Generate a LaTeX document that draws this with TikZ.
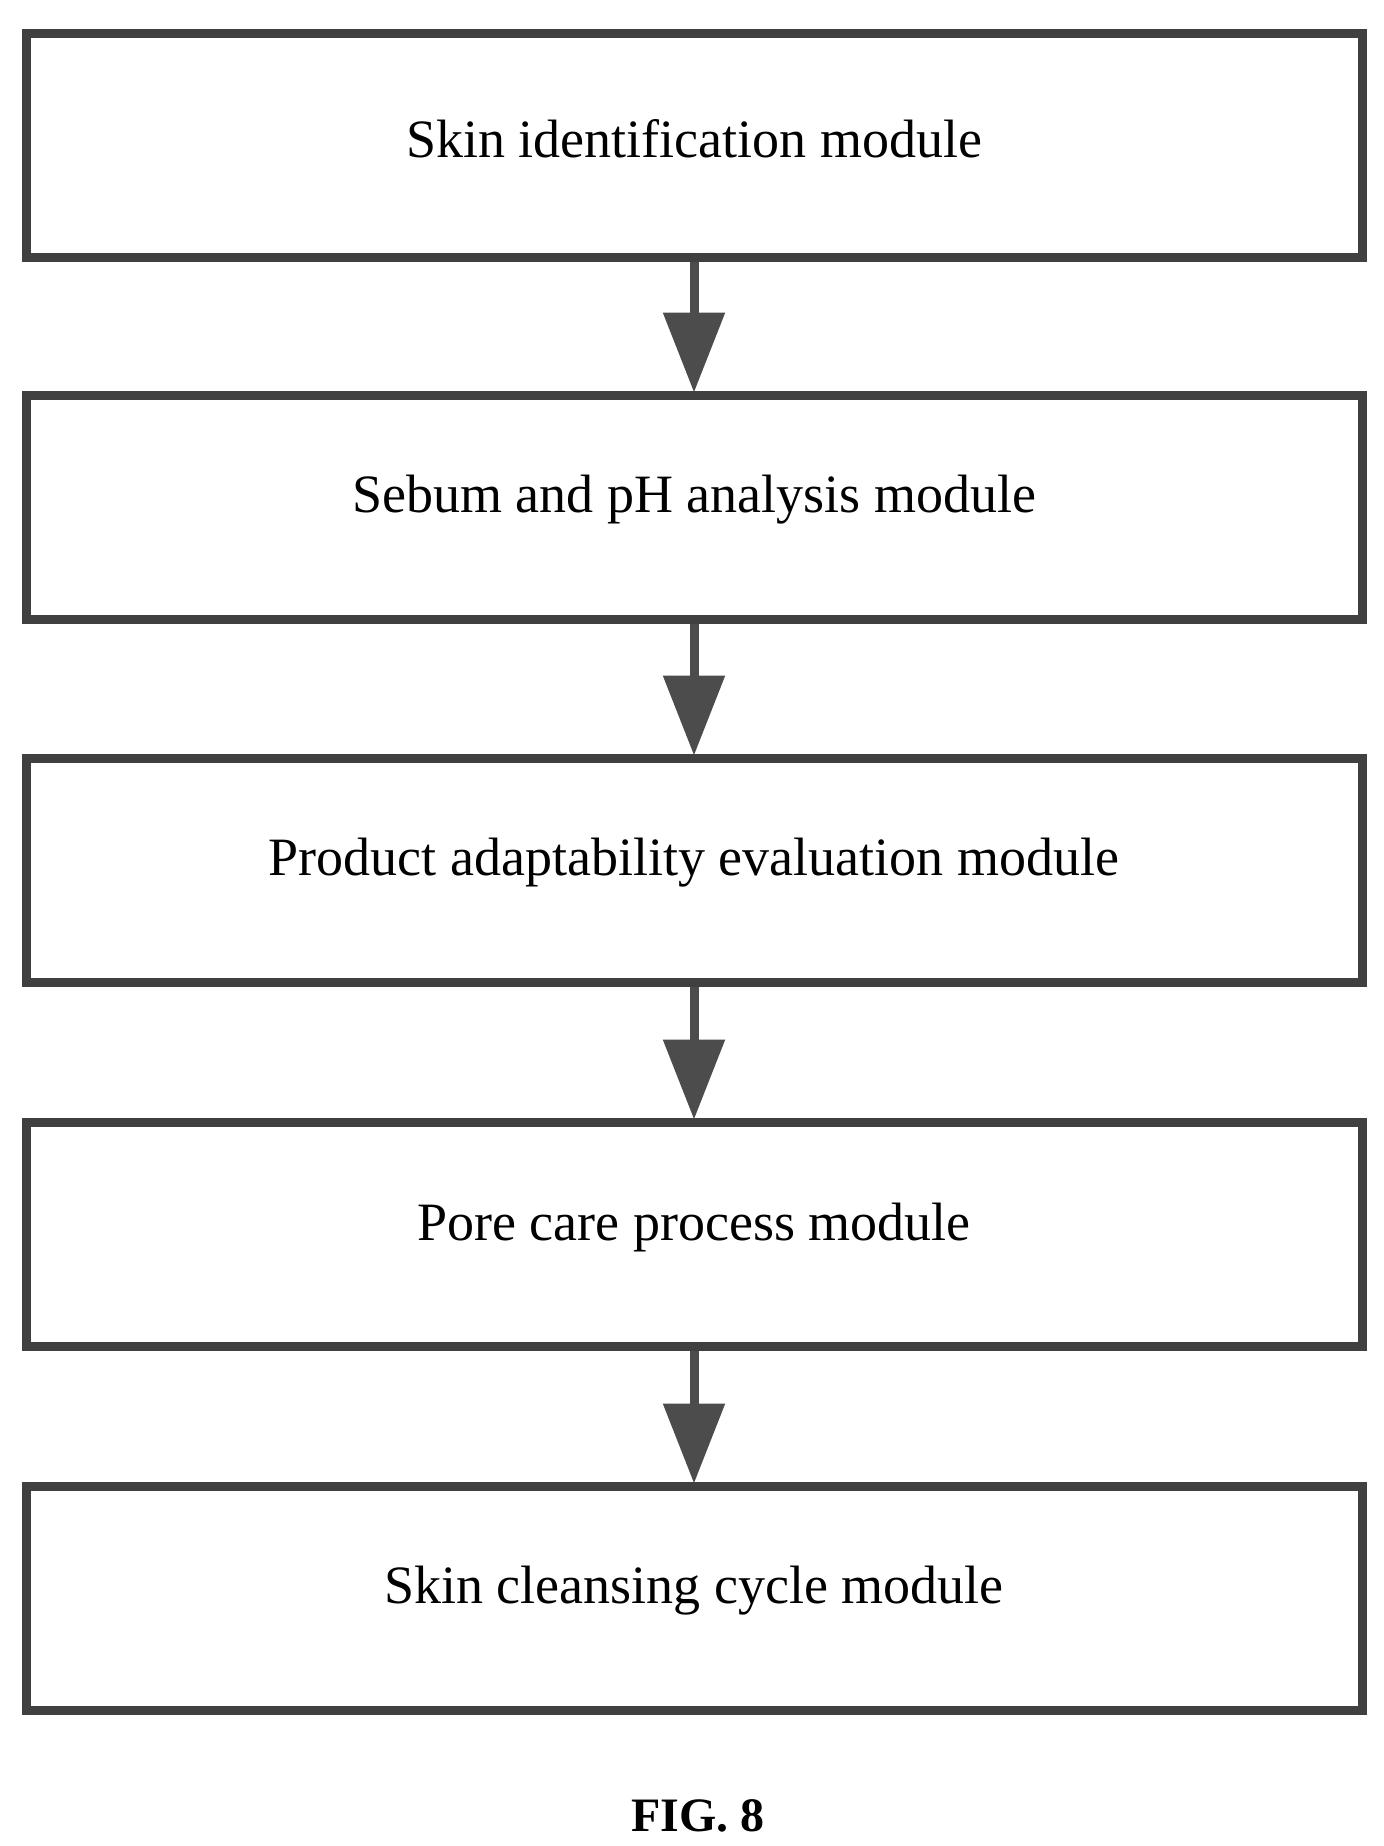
\documentclass[tikz,border=0pt]{standalone}
\usepackage{fontspec}
\setmainfont{Liberation Serif}
\usetikzlibrary{arrows.meta}
\begin{document}
\begin{tikzpicture}[x=0.5pt,y=-0.5pt,
 box/.style={draw=black!75,line width=4.5pt,minimum width=668pt,minimum height=112pt,font=\fontsize{27}{32}\selectfont,inner sep=0pt},
 lbl/.style={font=\fontsize{27}{32}\selectfont,inner sep=0pt},
 arr/.style={draw=black!70,line width=4.5pt,-{Triangle[length=40pt,width=30pt]},shorten >=-1pt}]
\useasboundingbox (0,0) rectangle (1384,1846);
\node[box] (a) at (694,146) {};
\node[box] (b) at (694,507) {};
\node[box] (c) at (694,870) {};
\node[box] (d) at (694,1234) {};
\node[box] (e) at (694,1598) {};
\node[lbl] (ta) at (694,139) {Skin identification module};
\node[lbl] (tb) at (694,500) {Sebum and pH analysis module};
\node[lbl] (tc) at (694,863) {Product adaptability evaluation module};
\node[lbl] (td) at (694,1227) {Pore care process module};
\node[lbl] (te) at (694,1591) {Skin cleansing cycle module};
\draw[arr] (a) -- (b);
\draw[arr] (b) -- (c);
\draw[arr] (c) -- (d);
\draw[arr] (d) -- (e);
\node[font=\fontsize{24}{28}\selectfont\bfseries] (f) at (698,1816) {FIG. 8};
\end{tikzpicture}
\end{document}
